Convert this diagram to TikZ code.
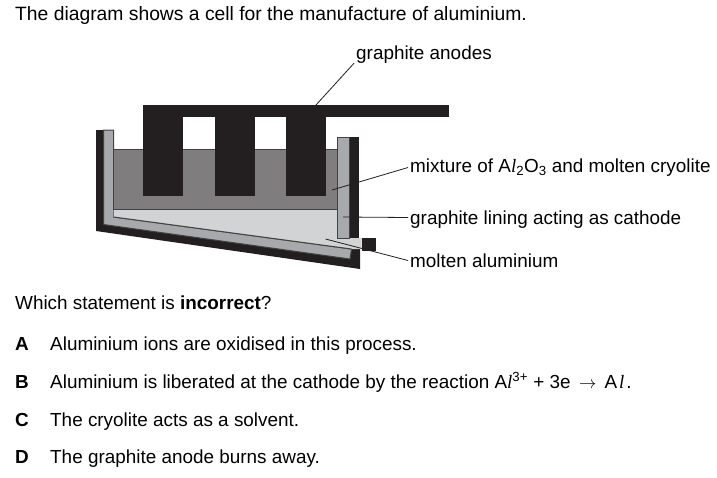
\documentclass[tikz,border=0pt]{standalone}
\usepackage{fontspec}
\setmainfont{Liberation Sans}
\newfontfamily\serifit{Liberation Serif}
\newcommand{\itl}{{\serifit\itshape l}}
\definecolor{cellblack}{HTML}{231F20}
\definecolor{meltgray}{HTML}{7F7D7E}
\definecolor{liningray}{HTML}{A7A9AC}
\definecolor{metalgray}{HTML}{D1D3D4}
\tikzset{
    txt/.style={anchor=base west, inner sep=0pt, font=\fontsize{18.9}{22}\selectfont},
    lbl/.style={anchor=base west, inner xsep=2pt, inner ysep=0pt, text height=17pt, text depth=4pt, font=\fontsize{18.9}{22}\selectfont},
    leader/.style={draw=cellblack, line width=0.8pt},
    cellline/.style={draw=cellblack!85!white, line width=1pt}
}
\begin{document}
\begin{tikzpicture}[x=1pt, y=-1pt]
    \useasboundingbox (0,0) rectangle (717,477);
    % cell body
    \fill[cellblack] (96,130) -- (103,130) -- (103,224) -- (350,259) -- (351.5,249) -- (360,248) -- (360,269) -- (96,231) -- cycle;
    \filldraw[fill=liningray, cellline] (103.5,130) -- (113.7,130) -- (113.7,217) -- (351.5,249) -- (350,259) -- (103.5,224.5) -- cycle;
    \fill[metalgray] (113.7,209) -- (337,209) -- (337,238) -- (361.5,238) -- (361.5,249) -- (351.5,249) -- (113.7,217) -- cycle;
    \draw[cellline] (113.7,217) -- (351.5,249);
    \filldraw[fill=meltgray, cellline] (113.7,149) rectangle (337,209);
    % right wall
    \fill[cellblack] (349.5,137) rectangle (359,238);
    \filldraw[fill=liningray, cellline] (337,137) rectangle (349.5,238);
    \fill[cellblack] (361.5,237.7) rectangle (375.5,251);
    % anodes
    \fill[cellblack] (143,105) rectangle (449,117);
    \foreach \x in {143,214.7,286.3}
        \fill[cellblack] (\x,110) rectangle (\x+40,196);
    % labels
    \node[txt, font=\fontsize{19.3}{22}\selectfont] (title) at (15,20) {The diagram shows a cell for the manufacture of aluminium.};
    \node[lbl] (lblAnodes) at (354,59) {graphite anodes};
    \node[lbl] (lblMixture) at (408,172) {mixture of A\itl\textsubscript{2}O\textsubscript{3} and molten cryolite};
    \node[lbl] (lblLining) at (408,224) {graphite lining acting as cathode};
    \node[lbl] (lblMetal) at (408,267) {molten aluminium};
    % leaders
    \coordinate (ptAnodes) at (316,105);
    \coordinate (ptMixture) at (332,190);
    \coordinate (ptLining) at (343,217);
    \coordinate (ptMetal) at (325.5,239);
    \draw[leader] (lblAnodes.south west) -- (ptAnodes);
    \draw[leader] ([yshift=-2pt]lblMixture.west) -- (ptMixture);
    \draw[leader] (lblLining.west) -- (ptLining);
    \draw[leader] (lblMetal.west) -- (ptMetal);
    % question
    \node[txt] (question) at (15,309) {Which statement is \textbf{incorrect}?};
    \node[txt] (letA) at (15,350) {\textbf{A}};
    \node[txt] (optA) at (50,350) {Aluminium ions are oxidised in this process.};
    \node[txt] (letB) at (15,388) {\textbf{B}};
    \node[txt] (optB) at (50,388) {Aluminium is liberated at the cathode by the reaction A\itl\textsuperscript{3+} + 3e\, $\rightarrow$\hspace{3pt} A\hspace{2pt}\itl\hspace{2pt}.};
    \node[txt] (letC) at (15,426) {\textbf{C}};
    \node[txt] (optC) at (50,426) {The cryolite acts as a solvent.};
    \node[txt] (letD) at (15,463) {\textbf{D}};
    \node[txt] (optD) at (50,463) {The graphite anode burns away.};
\end{tikzpicture}
\end{document}
